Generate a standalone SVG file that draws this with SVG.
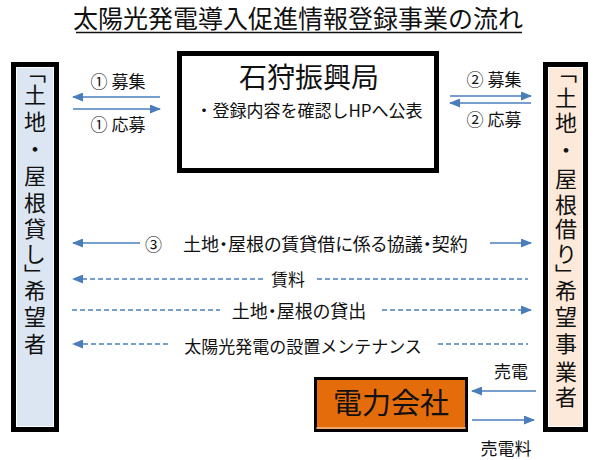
<svg xmlns="http://www.w3.org/2000/svg" width="595" height="460" viewBox="0 0 595 460">
<style>
text{font-family:"Noto Sans CJK JP","Noto Sans",sans-serif;fill:#111}
.lbl{font-size:17px}
.pa{font-feature-settings:"palt";font-size:18px}
.side{font-size:22px;writing-mode:vertical-rl;text-orientation:upright}
.ln{stroke:#4A7EBB;stroke-width:1.6;fill:none}
.ds{stroke-dasharray:5 3}
.outer{stroke:#000;stroke-width:5}
.inner{fill:none;stroke:#fff;stroke-width:1}
</style>
<defs>
<marker id="ah" markerUnits="userSpaceOnUse" markerWidth="11" markerHeight="9" refX="10" refY="4.5" orient="auto">
<path d="M0,0 L11,4.5 L0,9 z" fill="#4A7EBB"/>
</marker>
</defs>
<g id="title">
<text x="298" y="28" font-size="25" text-anchor="middle">太陽光発電導入促進情報登録事業の流れ</text>
<line x1="76" y1="32.5" x2="522" y2="32.5" stroke="#111" stroke-width="1.5"/>
</g>
<g id="left">
<rect x="13.5" y="64.5" width="43" height="365" fill="#DCE6F2" class="outer"/>
<rect x="16.5" y="67.5" width="37" height="359" class="inner"/>
<text class="side" x="35" y="61 84 111 138 165 192 218 243 264 280 306 333">「土地・屋根貸し」希望者</text>
</g>
<g id="center">
<rect x="179.5" y="53.5" width="257" height="117" fill="#fff" class="outer"/>
<rect x="182.5" y="56.5" width="251" height="111" class="inner"/>
<text x="309" y="88" font-size="28" text-anchor="middle">石狩振興局</text>
<text x="309" y="117" font-size="17" text-anchor="middle">・登録内容を確認しHPへ公表</text>
</g>
<g id="right">
<rect x="545.5" y="64.5" width="40" height="365" fill="#FDE9D9" class="outer"/>
<rect x="548.5" y="67.5" width="34" height="359" class="inner"/>
<text class="side" x="566" y="61 87 112 139 168 194 218 243 264 280 306 333 361 386">「土地・屋根借り」希望事業者</text>
</g>
<g id="power">
<rect x="315.5" y="378.5" width="151" height="52" fill="#E46C0A" stroke="#000" stroke-width="3"/>
<line x1="316" y1="428" x2="466" y2="428" stroke="#fff" stroke-width="0.8"/>
<text x="391" y="414" font-size="29" text-anchor="middle">電力会社</text>
</g>
<g id="connectors">
<line class="ln" x1="160" y1="97" x2="73" y2="97" marker-end="url(#ah)"/>
<line class="ln" x1="73" y1="109" x2="160" y2="109" marker-end="url(#ah)"/>
<line class="ln" x1="450" y1="96" x2="531" y2="96" marker-end="url(#ah)"/>
<line class="ln" x1="531" y1="103" x2="450" y2="103" marker-end="url(#ah)"/>
<line class="ln" x1="140" y1="243" x2="73" y2="243" marker-end="url(#ah)"/>
<line class="ln" x1="490" y1="243" x2="531" y2="243" marker-end="url(#ah)"/>
<line class="ln ds" x1="263" y1="279" x2="73" y2="279" marker-end="url(#ah)"/>
<line class="ln ds" x1="317" y1="279" x2="528" y2="279"/>
<line class="ln ds" x1="72" y1="310" x2="220" y2="310"/>
<line class="ln ds" x1="382" y1="310" x2="531" y2="310" marker-end="url(#ah)"/>
<line class="ln ds" x1="168" y1="344" x2="73" y2="344" marker-end="url(#ah)"/>
<line class="ln ds" x1="438" y1="344" x2="528" y2="344"/>
<line class="ln" x1="536" y1="391" x2="472" y2="391" marker-end="url(#ah)"/>
<line class="ln" x1="472" y1="420" x2="534" y2="420" marker-end="url(#ah)"/>
</g>
<g id="labels">
<text class="lbl" x="118" y="88" text-anchor="middle">① 募集</text>
<text class="lbl" x="118" y="131" text-anchor="middle">① 応募</text>
<text class="lbl" x="494" y="86" text-anchor="middle">② 募集</text>
<text class="lbl" x="494" y="126" text-anchor="middle">② 応募</text>
<text class="lbl" x="145" y="251" font-size="18">③</text>
<text class="lbl pa" x="183" y="251">土地・屋根の賃貸借に係る協議・契約</text>
<text class="lbl" x="288" y="286" text-anchor="middle">賃料</text>
<text class="lbl pa" x="299" y="318" text-anchor="middle">土地・屋根の貸出</text>
<text class="lbl" x="303" y="353" text-anchor="middle">太陽光発電の設置メンテナンス</text>
<text class="lbl" x="511" y="378" text-anchor="middle">売電</text>
<text class="lbl" x="506" y="455" text-anchor="middle">売電料</text>
</g>
</svg>
